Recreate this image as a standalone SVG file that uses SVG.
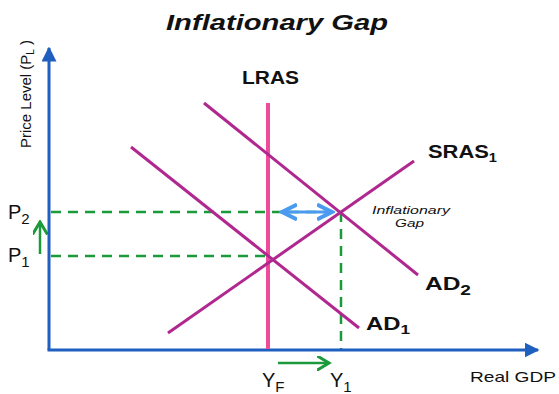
<svg xmlns="http://www.w3.org/2000/svg" width="559" height="394" viewBox="0 0 559 394">
<style>
text{font-family:"Liberation Sans",Arial,sans-serif;fill:#111}
.axis{stroke:#1f5fbf;stroke-width:3;fill:none}
.curve{stroke:#b0288f;stroke-width:3;fill:none}
.dash{stroke:#1a9a3a;stroke-width:2.5;stroke-dasharray:10,7;fill:none}
.lab{font-size:18px;font-weight:bold}
.ax{font-size:20px}
</style>
<defs>
<marker id="ab" markerWidth="5" markerHeight="5" refX="4.5" refY="2.5" orient="auto" markerUnits="strokeWidth"><path d="M0,0 L5,2.5 L0,5 Z" fill="#1f5fbf"/></marker>
<marker id="ag" markerWidth="6" markerHeight="6" refX="5" refY="3" orient="auto" markerUnits="strokeWidth"><path d="M0,0 L5,3 L0,6" fill="none" stroke="#1a9a3a" stroke-width="1.2"/></marker>
<marker id="al" markerWidth="6" markerHeight="6" refX="5" refY="3" orient="auto-start-reverse" markerUnits="strokeWidth"><path d="M0,0.5 L5,3 L0,5.5" fill="none" stroke="#4a9af0" stroke-width="1.3"/></marker>
</defs>
<text x="166" y="30" font-size="22" font-weight="bold" font-style="italic" textLength="222" lengthAdjust="spacingAndGlyphs">Inflationary Gap</text>
<g id="connectors">
<line class="dash" x1="51" y1="212" x2="340" y2="212"/>
<line class="dash" x1="51" y1="256" x2="268" y2="256"/>
<line class="dash" x1="341" y1="212" x2="341" y2="349"/>
<line stroke="#4a9af0" stroke-width="3" x1="282" y1="212" x2="332" y2="212" marker-start="url(#al)" marker-end="url(#al)"/>
<line stroke="#1a9a3a" stroke-width="2.5" x1="40" y1="254" x2="40" y2="222" marker-end="url(#ag)"/>
<line stroke="#1a9a3a" stroke-width="2.5" x1="278" y1="363" x2="329" y2="363" marker-end="url(#ag)"/>
</g>
<g id="axes">
<line class="axis" x1="49" y1="350" x2="49" y2="48" marker-end="url(#ab)"/>
<line class="axis" x1="47.5" y1="350" x2="538" y2="350" marker-end="url(#ab)"/>
<text transform="translate(31,148) rotate(-90)" font-size="15" fill="#333">Price Level (P<tspan font-size="10" dy="3">L</tspan><tspan dy="-3"> )</tspan></text>
<text x="470" y="382" font-size="15" fill="#333" textLength="86" lengthAdjust="spacingAndGlyphs">Real GDP</text>
</g>
<g id="lras">
<line x1="268" y1="103" x2="268" y2="349" stroke="#f04a9a" stroke-width="4"/>
<text class="lab" x="242" y="84" textLength="57" lengthAdjust="spacingAndGlyphs">LRAS</text>
</g>
<g id="sras1">
<line class="curve" x1="168" y1="333" x2="414" y2="161"/>
<text class="lab" x="428" y="158" textLength="69" lengthAdjust="spacingAndGlyphs">SRAS<tspan font-size="12" dy="4">1</tspan></text>
</g>
<g id="ad1">
<line class="curve" x1="131" y1="147" x2="359" y2="328"/>
<text class="lab" x="366" y="330" textLength="44" lengthAdjust="spacingAndGlyphs">AD<tspan font-size="13" dy="4">1</tspan></text>
</g>
<g id="ad2">
<line class="curve" x1="204" y1="103" x2="418" y2="275"/>
<text class="lab" x="425" y="290" textLength="46" lengthAdjust="spacingAndGlyphs">AD<tspan font-size="14" dy="5">2</tspan></text>
</g>
<g id="gap-label">
<text x="372" y="214" font-size="11" font-style="italic" fill="#444" textLength="78" lengthAdjust="spacingAndGlyphs">Inflationary</text>
<text x="395" y="227" font-size="11" font-style="italic" fill="#444" textLength="29" lengthAdjust="spacingAndGlyphs">Gap</text>
</g>
<g id="p-labels">
<text class="ax" x="8" y="219">P<tspan font-size="15" dy="5">2</tspan></text>
<text class="ax" x="8" y="262">P<tspan font-size="15" dy="5">1</tspan></text>
</g>
<g id="y-labels">
<text class="ax" x="262" y="387">Y<tspan font-size="15" dy="5">F</tspan></text>
<text class="ax" x="330" y="387">Y<tspan font-size="15" dy="5">1</tspan></text>
</g>
</svg>
